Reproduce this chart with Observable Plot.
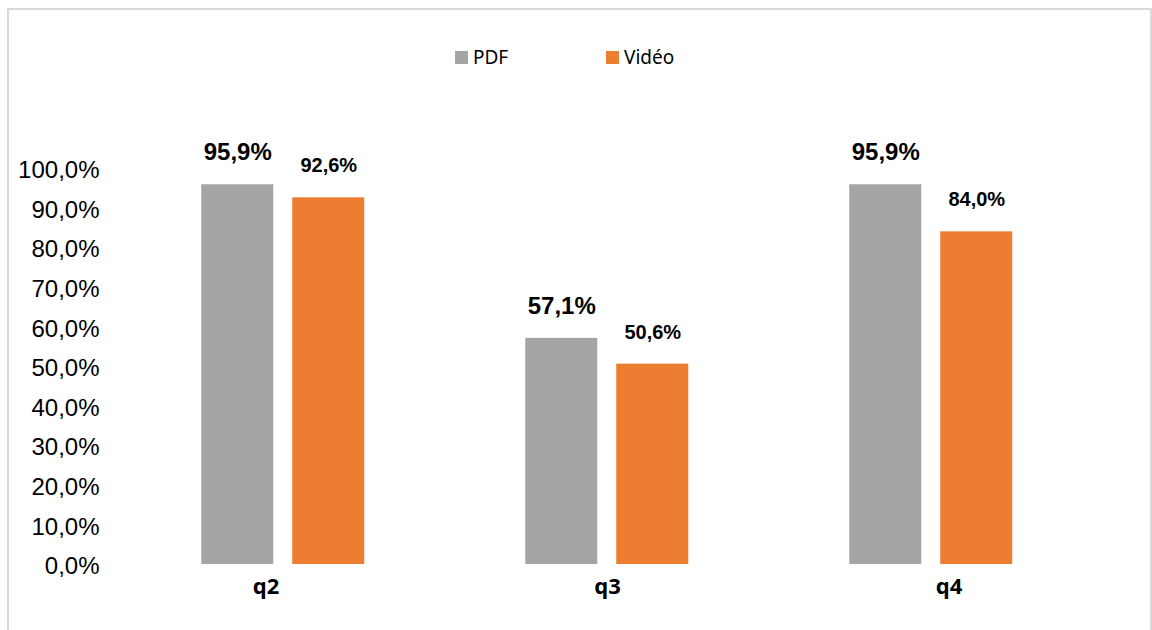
<!DOCTYPE html>
<html>
<head>
<meta charset="utf-8">
<script src="https://cdn.jsdelivr.net/npm/d3@7"></script>
<script src="https://cdn.jsdelivr.net/npm/@observablehq/plot@0.6"></script>
<style>
  html, body { margin: 0; padding: 0; background: #fff; overflow: hidden; }
  #wrap { position: relative; width: 1152px; height: 630px; overflow: hidden; }
  #frame { position: absolute; left: 7px; top: 8px; width: 1145px; height: 640px;
           border: 2px solid #d9d9d9; border-bottom: none; box-sizing: border-box; }
  #legend { position: absolute; left: 0; top: 44px; width: 1152px; height: 30px;
            font-family: "Noto Sans", "Open Sans", sans-serif; font-size: 19px; color: #000; }
  .item { position: absolute; top: 0; display: flex; align-items: center; height: 26px; }
  .swatch { width: 13px; height: 13px; margin-right: 5px; }
  #chart { position: absolute; left: 0; top: 95px; }
</style>
</head>
<body>
<div id="wrap">
  <div id="frame"></div>
  <div id="legend"></div>
  <div id="chart"></div>
</div>
<script>
const categories = ["q2", "q3", "q4"];
const series = ["PDF", "Vidéo"];
const pdfValues = [0.959, 0.571, 0.959];
const videoValues = [0.926, 0.506, 0.840];
const colors = ["#A5A5A5", "#ED7D31"];
const yTicks = [0, 0.1, 0.2, 0.3, 0.4, 0.5, 0.6, 0.7, 0.8, 0.9, 1.0];

const fmt = d => (d * 100).toFixed(1).replace(".", ",") + "%";

const data = categories.flatMap((c, i) => [
  {cat: c, series: series[0], value: pdfValues[i]},
  {cat: c, series: series[1], value: videoValues[i]}
]);

// Legend
const legend = document.getElementById("legend");
const legendLeft = [455, 606];
series.forEach((s, i) => {
  const item = document.createElement("div");
  item.className = "item";
  item.style.left = legendLeft[i] + "px";
  const sw = document.createElement("span");
  sw.className = "swatch";
  sw.style.background = colors[i];
  const t = document.createElement("span");
  t.textContent = s;
  item.appendChild(sw);
  item.appendChild(t);
  legend.appendChild(item);
});

const chart = Plot.plot({
  width: 1152,
  height: 525,
  marginLeft: 119.75,
  marginRight: 58.75,
  marginTop: 73,
  marginBottom: 56,
  style: {fontFamily: "'Liberation Sans', Arial, sans-serif", color: "#000", background: "transparent"},
  fx: {domain: categories, padding: 0},
  x: {domain: series, paddingInner: 0.2065, paddingOuter: 0.867, axis: null},
  y: {domain: [0, 1], axis: null},
  color: {domain: series, range: colors},
  marks: [
    Plot.barY(data, {fx: "cat", x: "series", y: "value", fill: "series"}),
    Plot.text(data.filter(d => d.series === series[0]), {
      fx: "cat", x: "series", y: "value", text: d => fmt(d.value),
      dy: -32, fontSize: 24, fontWeight: "bold", fill: "#000"
    }),
    Plot.text(data.filter(d => d.series === series[1]), {
      fx: "cat", x: "series", y: "value", text: d => fmt(d.value),
      dy: -32, fontSize: 20, fontWeight: "bold", fill: "#000"
    }),
    Plot.axisY({ticks: yTicks, tickFormat: fmt, tickSize: 0, tickPadding: 22, dy: 2, fontSize: 24, label: null}),
    ...categories.map((c, i) => Plot.axisFx({
      ticks: [c], anchor: "bottom", tickSize: 0, tickPadding: 14, dx: (i - 1) * 17.5,
      fontSize: 22, fontWeight: "bold", fontFamily: "'Noto Sans', sans-serif", label: null
    }))
  ]
});
document.getElementById("chart").appendChild(chart);
</script>
</body>
</html>
